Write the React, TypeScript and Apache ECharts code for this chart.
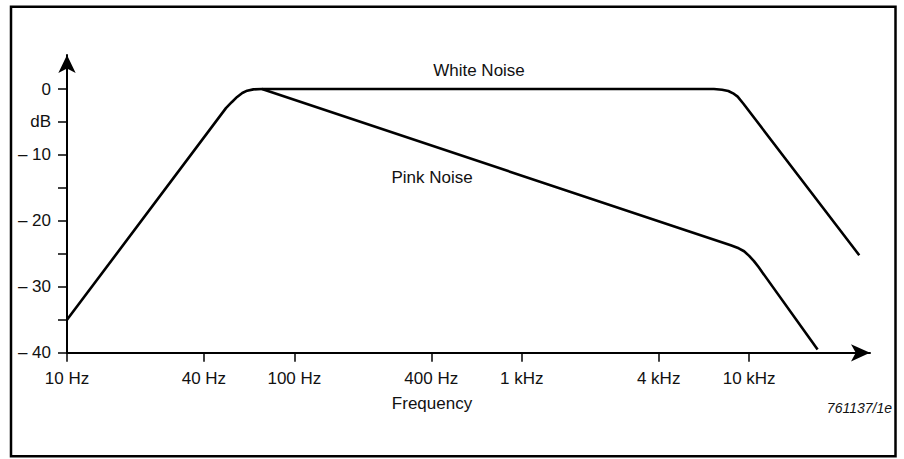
import React, { useEffect, useRef } from "react";
import * as echarts from "echarts";

// Frequency (Hz) / level (dB)
const whiteFreq = [10, 50, 53, 56, 59, 62, 66, 72, 7000, 7600, 8100, 8500, 8900, 9420, 30500];
const whiteDb = [-35, -2.9, -2.0, -1.2, -0.6, -0.25, -0.05, 0, 0, -0.1, -0.3, -0.65, -1.15, -2.2, -25.2];

const pinkFreq = [72, 5500, 8300, 9000, 9500, 10000, 10500, 11000, 20000];
const pinkDb = [0, -21.65, -23.7, -24.15, -24.6, -25.3, -26.1, -27.0, -39.5];

const xTickValues = [10, 40, 100, 400, 1000, 4000, 10000];
const yTickValues = [-40, -35, -30, -25, -20, -15, -10, -5, 0];
const yLabelValues = [-40, -30, -20, -10, -5, 0];

const FONT = "'Liberation Sans', Arial, Helvetica, sans-serif";

export default function App() {
  const ref = useRef<HTMLDivElement>(null);
  useEffect(() => {
    if (!ref.current) return;
    const chart = echarts.init(ref.current, null, { renderer: "svg" });
    const lineStyle = { color: "#000", width: 2.6 };
    chart.setOption({
      animation: false,
      backgroundColor: "#fff",
      grid: { left: 67, right: 34, top: 55, bottom: 106.2, containLabel: false, outerBoundsMode: "none" },
      xAxis: {
        type: "log",
        logBase: 10,
        min: 10,
        max: 34000,
        axisLine: {
          onZero: false,
          lineStyle: { color: "#000", width: 2 },
          symbol: ["none", "arrow"],
          symbolSize: [13, 19],
        },
        axisTick: { show: true, inside: false, length: 9, lineStyle: { color: "#000", width: 1.5 }, customValues: xTickValues },
        axisLabel: {
          show: true,
          margin: 17,
          color: "#111",
          fontSize: 17,
          fontFamily: FONT,
          customValues: xTickValues,
          formatter: (v: number) => {
            const r = Math.round(v);
            return r >= 1000 ? r / 1000 + " kHz" : r + " Hz";
          },
        },
        splitLine: { show: false },
        minorTick: { show: false },
        minorSplitLine: { show: false },
      },
      yAxis: {
        type: "value",
        min: -40,
        max: 5.16,
        axisLine: {
          show: true,
          onZero: false,
          lineStyle: { color: "#000", width: 2 },
          symbol: ["none", "arrow"],
          symbolSize: [13, 18],
        },
        axisTick: { show: true, inside: false, length: 9, lineStyle: { color: "#000", width: 1.5 }, customValues: yTickValues },
        axisLabel: {
          show: true,
          margin: 16,
          color: "#111",
          fontSize: 17,
          fontFamily: FONT,
          customValues: yLabelValues,
          formatter: (v: number) => (v === -5 ? "dB" : v === 0 ? "0" : "\u2013 " + Math.abs(v)),
        },
        splitLine: { show: false },
      },
      series: [
        {
          name: "White Noise",
          type: "line",
          showSymbol: false,
          symbol: "none",
          smooth: false,
          lineStyle,
          data: whiteFreq.map((f, i) => [f, whiteDb[i]]),
        },
        {
          name: "Pink Noise",
          type: "line",
          showSymbol: false,
          symbol: "none",
          smooth: false,
          lineStyle,
          data: pinkFreq.map((f, i) => [f, pinkDb[i]]),
        },
      ],
      graphic: [
        {
          type: "rect",
          z: -1,
          shape: { x: 11, y: 6.8, width: 884.5, height: 449.5 },
          style: { fill: "transparent", stroke: "#000", lineWidth: 2.5 },
        },
        {
          type: "text",
          x: 479,
          y: 70,
          style: { text: "White Noise", fontSize: 17, fontFamily: FONT, fill: "#111", align: "center", verticalAlign: "middle" },
        },
        {
          type: "text",
          x: 432,
          y: 177,
          style: { text: "Pink Noise", fontSize: 17, fontFamily: FONT, fill: "#111", align: "center", verticalAlign: "middle" },
        },
        {
          type: "text",
          x: 432,
          y: 403,
          style: { text: "Frequency", fontSize: 17, fontFamily: FONT, fill: "#111", align: "center", verticalAlign: "middle" },
        },
        {
          type: "text",
          x: 892,
          y: 408,
          style: { text: "761137/1e", fontSize: 14, fontStyle: "italic", fontFamily: FONT, fill: "#111", align: "right", verticalAlign: "middle" },
        },
      ],
    });
    return () => chart.dispose();
  }, []);
  return (
    <div
      ref={ref}
      style={{ position: "absolute", left: 0, top: 0, width: 904, height: 459, background: "#fff" }}
    />
  );
}
